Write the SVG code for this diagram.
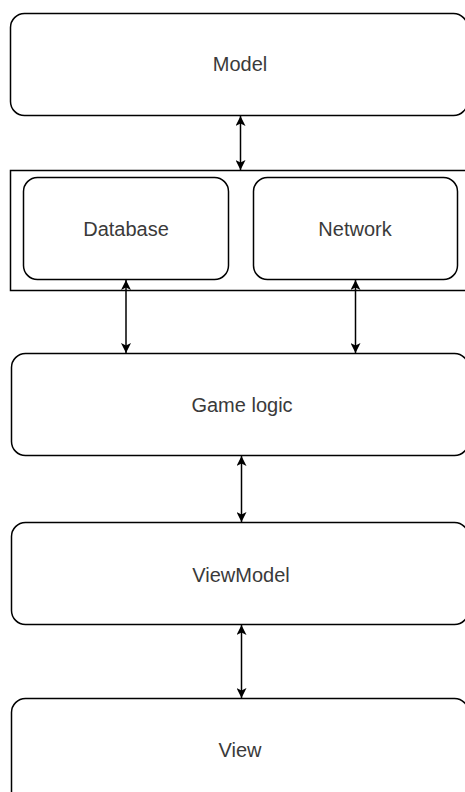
<svg xmlns="http://www.w3.org/2000/svg" width="465" height="792" viewBox="0 0 465 792">
<style>
.box{fill:#fff;stroke:#000;stroke-width:1.5}
.lbl{font-family:"Liberation Sans",Arial,sans-serif;font-size:20px;fill:#3a3a3a;text-anchor:middle}
.conn{stroke:#000;stroke-width:1.5;fill:none;marker-start:url(#ah);marker-end:url(#ah)}
</style>
<defs>
<marker id="ah" viewBox="0 0 10 10" refX="10" refY="5" markerWidth="10" markerHeight="10" markerUnits="userSpaceOnUse" orient="auto-start-reverse">
<path d="M0,0 L10,5 L0,10 L2.5,5 Z" fill="#000"/>
</marker>
</defs>
<rect width="465" height="792" fill="#fff"/>
<g id="model">
<rect class="box" x="10.5" y="13.5" width="457" height="102" rx="14" ry="14"/>
<text class="lbl" x="240" y="71">Model</text>
</g>
<g id="container">
<rect class="box" x="10.5" y="170.5" width="460" height="120" rx="0"/>
</g>
<g id="database">
<rect class="box" x="23.5" y="177.5" width="205" height="102" rx="14" ry="14"/>
<text class="lbl" x="126" y="236">Database</text>
</g>
<g id="network">
<rect class="box" x="253.5" y="177.5" width="204" height="102" rx="14" ry="14"/>
<text class="lbl" x="355" y="236">Network</text>
</g>
<g id="gamelogic">
<rect class="box" x="11.5" y="353.5" width="457" height="102" rx="14" ry="14"/>
<text class="lbl" x="242" y="412">Game logic</text>
</g>
<g id="viewmodel">
<rect class="box" x="11.5" y="522.5" width="457" height="102" rx="14" ry="14"/>
<text class="lbl" x="241" y="582">ViewModel</text>
</g>
<g id="view">
<rect class="box" x="11.5" y="698.5" width="457" height="110" rx="14" ry="14"/>
<text class="lbl" x="240" y="757">View</text>
</g>
<g id="connectors">
<line class="conn" x1="240.5" y1="116" x2="240.5" y2="170"/>
<line class="conn" x1="126" y1="280" x2="126" y2="353"/>
<line class="conn" x1="355.5" y1="280" x2="355.5" y2="353"/>
<line class="conn" x1="241.5" y1="456" x2="241.5" y2="522"/>
<line class="conn" x1="241.5" y1="625" x2="241.5" y2="698"/>
</g>
</svg>
